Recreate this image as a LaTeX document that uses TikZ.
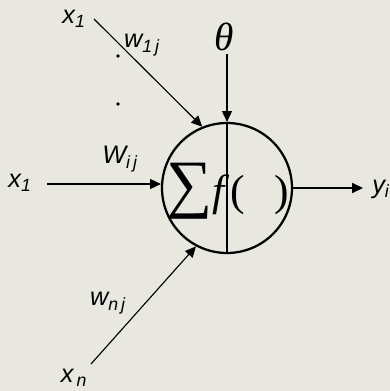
\documentclass[tikz,border=0pt]{standalone}
\usepackage{fontspec}
\setmainfont{Liberation Sans}
\newfontfamily\timesfont{Liberation Serif}
\usepackage{tikz}
\usetikzlibrary{positioning,calc,arrows.meta}
\definecolor{PaperGrey}{RGB}{232,232,224}
\tikzset{
  lbl/.style={font=\fontsize{18}{20}\selectfont\itshape,inner sep=0pt},
  inarrow/.style={line width=0.8pt,-{Triangle[length=0.27cm,width=0.25cm]}},
  cell/.style={circle,draw,line width=1.6pt,minimum size=3.25cm,inner sep=0pt}
}

\begin{document}
\begin{tikzpicture}
    \fill[PaperGrey] (0,0) rectangle (9.75,9.775);
    \useasboundingbox (0,0) rectangle (9.75,9.775);
    \node[cell] (neuron) at (5.675,5.075) {};
    \draw[line width=0.8pt] (neuron.north) -- (neuron.south);
    \node[font=\timesfont\fontsize{31}{32}\selectfont,inner sep=0pt] (sumf) at (5.7,5.0)
      {{\fontsize{46}{46}\selectfont ∑}\textit{f}(\hspace{0.75cm})};
    % bias
    \coordinate (bias) at (5.675,8.425);
    \node[font=\timesfont\fontsize{28}{30}\selectfont\itshape] (theta) at (5.6,8.85) {θ};
    \draw[inarrow] (bias) -- (neuron.north);
    % inputs
    \coordinate (in1) at (2.35,9.3);
    \coordinate (ini) at (1.175,5.175);
    \coordinate (inn) at (2.275,0.675);
    \node[lbl] (x1top) at (1.85,9.3) {x\textsubscript{1}};
    \node[lbl] (x1mid) at (0.5,5.2) {x\textsubscript{1}};
    \node[lbl] (xn) at (1.85,0.33) {x\textsubscript{\,n}};
    \node[lbl] (w1j) at (3.55,8.65) {w\textsubscript{1\,j}};
    \node[lbl] (wij) at (3.0,5.8) {W\textsubscript{i\,j}};
    \node[lbl] (wnj) at (2.7,2.2) {w\textsubscript{n\,j}};
    \fill (2.95,8.375) circle (1.3pt);
    \fill (2.95,7.175) circle (1.3pt);
    \draw[inarrow] (in1) -- (neuron.112);
    \draw[inarrow] (ini) -- (ini -| neuron.west);
    \draw[inarrow] (inn) -- (neuron.242);
    % output
    \coordinate (out) at (9.075,5.075);
    \node[lbl,anchor=west] (yi) at (9.3,5.05) {y\textsubscript{i}};
    \draw[inarrow] (neuron.east) -- (out);
\end{tikzpicture}
\end{document}
